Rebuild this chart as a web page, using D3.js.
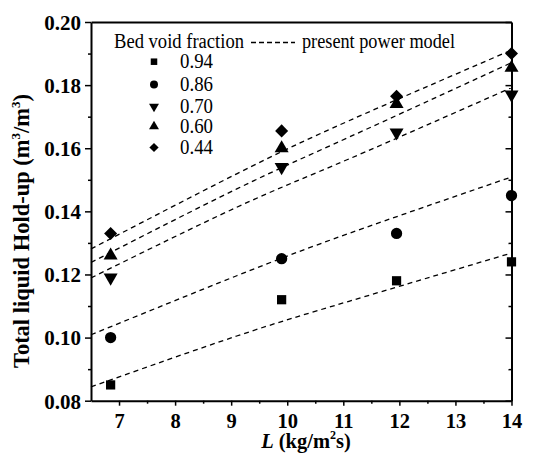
<!DOCTYPE html>
<html><head><meta charset="utf-8">
<script src="https://cdn.jsdelivr.net/npm/d3@7"></script>
<style>body{margin:0;background:#fff}svg{display:block}
svg text{font-family:"Liberation Serif","Tinos","Times New Roman","DejaVu Serif",serif;}
</style>
</head><body>
<svg id="c" width="535" height="459"></svg>
<script>
const voidFractions = ["0.94","0.86","0.70","0.60","0.44"];
const markerTypes = ["square","circle","down","up","diamond"];
const flowRates = [6.85, 9.9, 11.95, 14.0];
const holdup = [
  [0.085, 0.112, 0.118, 0.124],
  [0.100, 0.125, 0.133, 0.145],
  [0.119, 0.154, 0.165, 0.177],
  [0.126, 0.160, 0.174, 0.1855],
  [0.133, 0.1655, 0.1765, 0.190]
];
const modelL = [6.5, 9.1, 11.1, 14.0];
const modelHoldup = [
  [0.0844, 0.1005, 0.1115, 0.1268],
  [0.1009, 0.1196, 0.1330, 0.1509],
  [0.1189, 0.1413, 0.1566, 0.1792],
  [0.1238, 0.1471, 0.1635, 0.1871],
  [0.1281, 0.1519, 0.1687, 0.1911]
];
const xTicks = [7,8,9,10,11,12,13,14];
const yTicks = [0.08,0.10,0.12,0.14,0.16,0.18,0.20];

const svg = d3.select("#c");
const m = {l:91, r:511.5, t:22, b:400.7};
const x = d3.scaleLinear().domain([6.5,14]).range([m.l,m.r]);
const y = d3.scaleLinear().domain([0.08,0.20]).range([m.b,m.t]);

const xMinor = d3.range(7,14.01,0.5).filter(v=>!xTicks.includes(v));
const yMinor = d3.range(0.09,0.20,0.02);

const gx = svg.append("g").attr("transform",`translate(0,${m.b})`)
  .call(d3.axisBottom(x).tickValues(xTicks).tickFormat(d3.format("d")).tickSize(5).tickSizeOuter(0));
gx.append("g").call(d3.axisBottom(x).tickValues(xMinor).tickFormat("").tickSize(3).tickSizeOuter(0)).select(".domain").remove();
const gy = svg.append("g").attr("transform",`translate(${m.l},0)`)
  .call(d3.axisLeft(y).tickValues(yTicks).tickFormat(d3.format(".2f")).tickSize(6).tickSizeOuter(0));
gy.append("g").call(d3.axisLeft(y).tickValues(yMinor).tickFormat("").tickSize(3).tickSizeOuter(0)).select(".domain").remove();
const gr = svg.append("g").attr("transform",`translate(${m.r},0)`)
  .call(d3.axisLeft(y).tickValues(yTicks).tickFormat("").tickSize(6).tickSizeOuter(0));
gr.append("g").call(d3.axisLeft(y).tickValues(yMinor).tickFormat("").tickSize(3).tickSizeOuter(0)).select(".domain").remove();
svg.append("g").attr("transform",`translate(0,${m.t})`)
  .call(d3.axisTop(x).tickValues([]).tickSizeOuter(0));

svg.selectAll(".domain").attr("stroke","#000").attr("stroke-width",2);
svg.selectAll(".tick line").attr("stroke","#000").attr("stroke-width",1.5);
svg.selectAll(".tick text").attr("font-family",null).attr("font-weight","bold").attr("font-size",21).attr("fill","#000");
gx.selectAll(".tick text").attr("font-size",20.5).attr("dy",null).attr("y",27.5);
gy.selectAll(".tick text").attr("x",-10).attr("dy","0.35em");

// model lines
const line = d3.line().x((d,i)=>x(modelL[i])).y(d=>y(d)).curve(d3.curveNatural);
svg.append("g").selectAll("path").data(modelHoldup).join("path")
  .attr("d",line).attr("fill","none").attr("stroke","#000")
  .attr("stroke-width",1.3).attr("stroke-dasharray","5,4");

// markers
const symMap = {
  square: d3.symbolSquare, circle: d3.symbolCircle, down: d3.symbolTriangle,
  up: d3.symbolTriangle, diamond: d3.symbolSquare
};
function sym(type, s){
  let size = {square:85, circle:100, down:85, up:85, diamond:85}[type]*s;
  return d3.symbol().type(symMap[type]).size(size)();
}
function rot(type){ return type==="down"?180:(type==="diamond"?45:0); }

holdup.forEach((vals,k)=>{
  const t = markerTypes[k];
  svg.append("g").selectAll("path").data(vals).join("path")
    .attr("d", sym(t,1))
    .attr("transform",(d,i)=>`translate(${x(flowRates[i])},${y(d)}) rotate(${rot(t)})`)
    .attr("fill","#000");
});

// legend
svg.append("text").attr("x",114).attr("y",48).attr("font-size",20)
  .attr("textLength",130).attr("lengthAdjust","spacingAndGlyphs").text("Bed void fraction");
svg.append("line").attr("x1",251).attr("x2",295).attr("y1",42.5).attr("y2",42.5)
  .attr("stroke","#000").attr("stroke-width",1.3).attr("stroke-dasharray","5,3");
svg.append("text").attr("x",302).attr("y",48).attr("font-size",20)
  .attr("textLength",153).attr("lengthAdjust","spacingAndGlyphs").text("present power model");
const legY = [61.7, 84.5, 106.5, 126.5, 147.5];
voidFractions.forEach((v,k)=>{
  const t = markerTypes[k];
  svg.append("path").attr("d",sym(t,0.5))
    .attr("transform",`translate(154,${legY[k]}) rotate(${rot(t)})`).attr("fill","#000");
  svg.append("text").attr("x",180).attr("y",legY[k]+6.5).attr("font-size",20)
    .attr("textLength",33).attr("lengthAdjust","spacingAndGlyphs").text(v);
});

// axis titles
const xt = svg.append("text").attr("x",306).attr("y",448).attr("text-anchor","middle")
  .attr("font-weight","bold").attr("font-size",20.5);
xt.append("tspan").attr("font-style","italic").text("L");
xt.append("tspan").text(" (kg/m");
xt.append("tspan").attr("font-size",12).attr("dy",-9).text("2");
xt.append("tspan").attr("dy",9).text("s)");

const yt = svg.append("text").attr("transform","translate(29,231) rotate(-90)").attr("text-anchor","middle")
  .attr("font-weight","bold").attr("font-size",22.5);
yt.append("tspan").text("Total liquid Hold-up (m");
yt.append("tspan").attr("font-size",13).attr("dy",-9).text("3");
yt.append("tspan").attr("dy",9).text("/m");
yt.append("tspan").attr("font-size",13).attr("dy",-9).text("3");
yt.append("tspan").attr("dy",9).text(")");
</script>
</body></html>
